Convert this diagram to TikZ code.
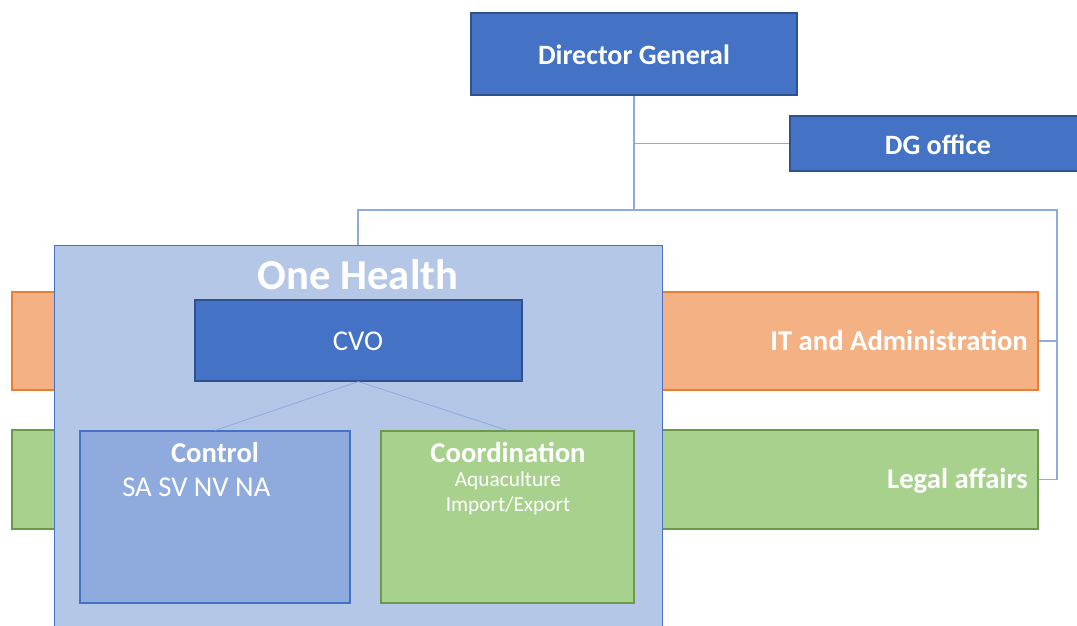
\documentclass[tikz,border=0pt]{standalone}
\usepackage{fontspec}
\setmainfont{Carlito}
\usetikzlibrary{positioning}
\usetikzlibrary{fit}
\definecolor{dgblue}{HTML}{4472C4}
\definecolor{dgedge}{HTML}{2F528F}
\definecolor{ohblue}{HTML}{B4C7E7}
\definecolor{ctlblue}{HTML}{8FAADC}
\definecolor{itorange}{HTML}{F4B183}
\definecolor{itedge}{HTML}{ED7D31}
\definecolor{lgreen}{HTML}{A9D18E}
\definecolor{lgedge}{HTML}{6A9A4A}
\definecolor{linkblue}{HTML}{8FAADC}

\tikzset{
  unit/.style={draw,inner sep=0pt,line width=0.9pt},
  bluebox/.style={unit,fill=dgblue,draw=dgedge},
  link/.style={linkblue,line width=0.8pt},
  lbl/.style={text=white,inner sep=0pt}
}

\begin{document}
\begin{tikzpicture}[x=0.75pt,y=-0.75pt]
\useasboundingbox (0,0) rectangle (1077,625);

    % side bands
    \node[unit,fill=itorange,draw=itedge,fit={(12,292) (1038,390)}] (itadm) {};
    \node[unit,fill=lgreen,draw=lgedge,fit={(12,430) (1038,529)}] (legal) {};
    \node[lbl,font=\fontsize{21.5}{25}\selectfont\bfseries,anchor=east] (itlbl) at (1028,341) {IT and Administration};
    \node[lbl,font=\fontsize{21.5}{25}\selectfont\bfseries,anchor=east] (legallbl) at (1028,481) {Legal affairs};

    % top
	\node[bluebox,fit={(471,13) (797,95)}] (dg) {};
	\node[bluebox,fit={(790,116) (1082,171)}] (dgoffice) {};
	\node[lbl,font=\fontsize{21}{25}\selectfont\bfseries] (dglbl) at (634,55) {Director General};
	\node[lbl,font=\fontsize{21}{25}\selectfont\bfseries] (dgofflbl) at (938,145) {DG office};

    % one health
    \node[unit,fill=ohblue,draw=dgblue,line width=0.6pt,fit={(54,245) (662,632)}] (onehealth) {};
    \node[lbl,font=\fontsize{32}{36}\selectfont\bfseries] (ohlbl) at (358,275) {One Health};
	\node[bluebox,fit={(195,300) (522,381)}] (cvo) {};
	\node[lbl,font=\fontsize{21.5}{25}\selectfont] (cvolbl) at (358,341) {CVO};
    \node[unit,fill=ctlblue,draw=dgblue,fit={(80,431) (350,603)}] (control) {};
    \node[unit,fill=lgreen,draw=lgedge,fit={(381,431) (634,603)}] (coord) {};

    % labels
    \node[lbl,font=\fontsize{21.5}{25}\selectfont\bfseries] (ctllbl) at (215,453) {Control};
    \node[lbl,font=\fontsize{21.5}{25}\selectfont,anchor=west] (ctlsub) at (122,487) {SA SV NV NA};
    \node[lbl,font=\fontsize{21.5}{25}\selectfont\bfseries] (coordlbl) at (508,453) {Coordination};
    \node[lbl,font=\fontsize{16}{19}\selectfont] (aqua) at (508,481) {Aquaculture};
    \node[lbl,font=\fontsize{16}{19}\selectfont] (impexp) at (508,506) {Import/Export};

    % connectors
    \coordinate (bus) at (634,210);
    \coordinate (rbus) at (1057,210);
	\draw[link] (dg.south) -- (bus);
	\draw[link] (dg.south |- dgoffice.west) -- (dgoffice.west);
	\draw[link] (onehealth.north) |- (rbus) |- (legal.east);
	\draw[link] (itadm.east) -- (itadm.east -| rbus);
	\draw[link,line width=0.6pt] (cvo.south) -- (control.north);
	\draw[link,line width=0.6pt] (cvo.south) -- (coord.north);
\end{tikzpicture}
\end{document}
